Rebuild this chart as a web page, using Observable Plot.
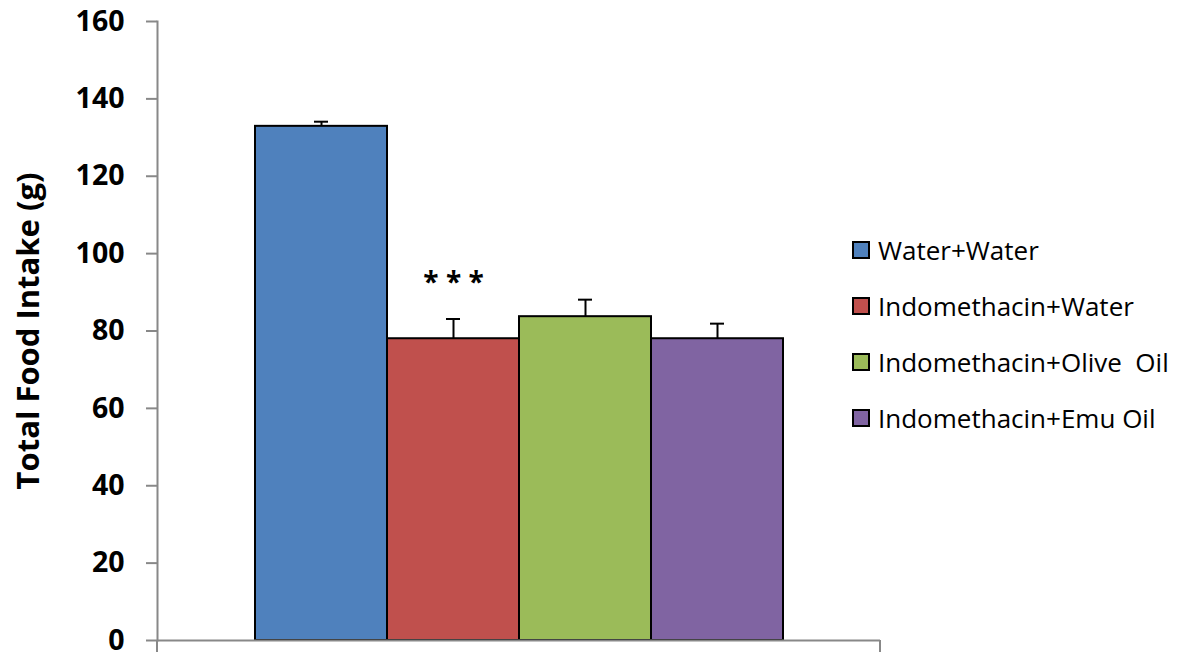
<!DOCTYPE html>
<html>
<head>
<meta charset="utf-8">
<script src="https://cdn.jsdelivr.net/npm/d3@7"></script>
<script src="https://cdn.jsdelivr.net/npm/@observablehq/plot@0.6"></script>
<style>
  html, body { margin: 0; padding: 0; background: #fff; }
  #wrap { position: relative; width: 1184px; height: 657px; font-family: "Open Sans", sans-serif; }
  #legend { position: absolute; left: 852px; top: 222px; }
  .item { display: flex; align-items: center; height: 56px; font-size: 26px; color: #000; white-space: pre; }
  .sw { width: 14px; height: 14px; border: 2px solid #000; margin-right: 8px; flex: none; }
</style>
</head>
<body>
<div id="wrap"></div>
<script>
const groups = ["Water+Water", "Indomethacin+Water", "Indomethacin+Olive  Oil", "Indomethacin+Emu Oil"];
const means = [132.9, 78.0, 83.7, 78.0];
const upper = [134.1, 83.1, 88.1, 81.9];
const colors = ["#4F81BD", "#C0504D", "#9BBB59", "#8064A2"];
const yTicks = [0, 20, 40, 60, 80, 100, 120, 140, 160];
const yLabel = "Total Food Intake (g)";
const stars = [{group: "Indomethacin+Water", y: 93.8, label: "* * *"}];

const data = groups.map((g, i) => ({group: g, mean: means[i], upper: upper[i], color: colors[i]}));

const bottomAxis = (index, scales, values, dimensions) => {
  const {marginLeft, marginRight, marginBottom, width, height} = dimensions;
  const y0 = height - marginBottom;
  const g = d3.create("svg:g").attr("stroke", "#888").attr("stroke-width", 2);
  [marginLeft, width - marginRight].forEach(xp => {
    g.append("line").attr("x1", xp).attr("x2", xp).attr("y1", y0).attr("y2", y0 + 12);
  });
  return g.node();
};

const chart = Plot.plot({
  width: 1184,
  height: 657,
  marginLeft: 157,
  marginRight: 304,
  marginTop: 21,
  marginBottom: 17,
  style: {fontFamily: "'Open Sans', sans-serif", color: "#000", background: "#fff"},
  x: {type: "band", domain: groups, padding: 0, insetLeft: 98, insetRight: 97, axis: null},
  y: {domain: [0, 160]},
  color: {type: "ordinal", domain: groups, range: colors},
  marks: [
    Plot.frame({anchor: "left", stroke: "#888", strokeWidth: 2}),
    Plot.axisY({
      ticks: yTicks, tickSize: 11, tickPadding: 22, stroke: "#888", strokeWidth: 2,
      fontSize: 28.5, fontWeight: "bold", fill: "#000", label: null
    }),
    Plot.text([yLabel], {
      frameAnchor: "left", rotate: -90, dx: -128, fontSize: 31, fontWeight: "bold",
      fill: "#000", textAnchor: "middle", lineAnchor: "middle"
    }),
    Plot.barY(data, {x: "group", y: "mean", fill: "group", stroke: "#000", strokeWidth: 2}),
    Plot.ruleX(data, {x: "group", y1: "mean", y2: "upper", stroke: "#000", strokeWidth: 2}),
    Plot.tickY(data, {x: "group", y: "upper", stroke: "#000", strokeWidth: 2, insetLeft: 59, insetRight: 59}),
    Plot.text(stars, {x: "group", y: "y", text: "label", fontSize: 28, fontWeight: "bold", fill: "#000", dy: 5}),
    Plot.ruleY([0], {stroke: "#888", strokeWidth: 2}),
    bottomAxis
  ]
});

const wrap = document.getElementById("wrap");
wrap.appendChild(chart);

const legend = document.createElement("div");
legend.id = "legend";
groups.forEach((g, i) => {
  const it = document.createElement("div");
  it.className = "item";
  const sw = document.createElement("span");
  sw.className = "sw";
  sw.style.background = colors[i];
  const tx = document.createElement("span");
  tx.textContent = g;
  it.appendChild(sw);
  it.appendChild(tx);
  legend.appendChild(it);
});
wrap.appendChild(legend);
</script>
</body>
</html>
